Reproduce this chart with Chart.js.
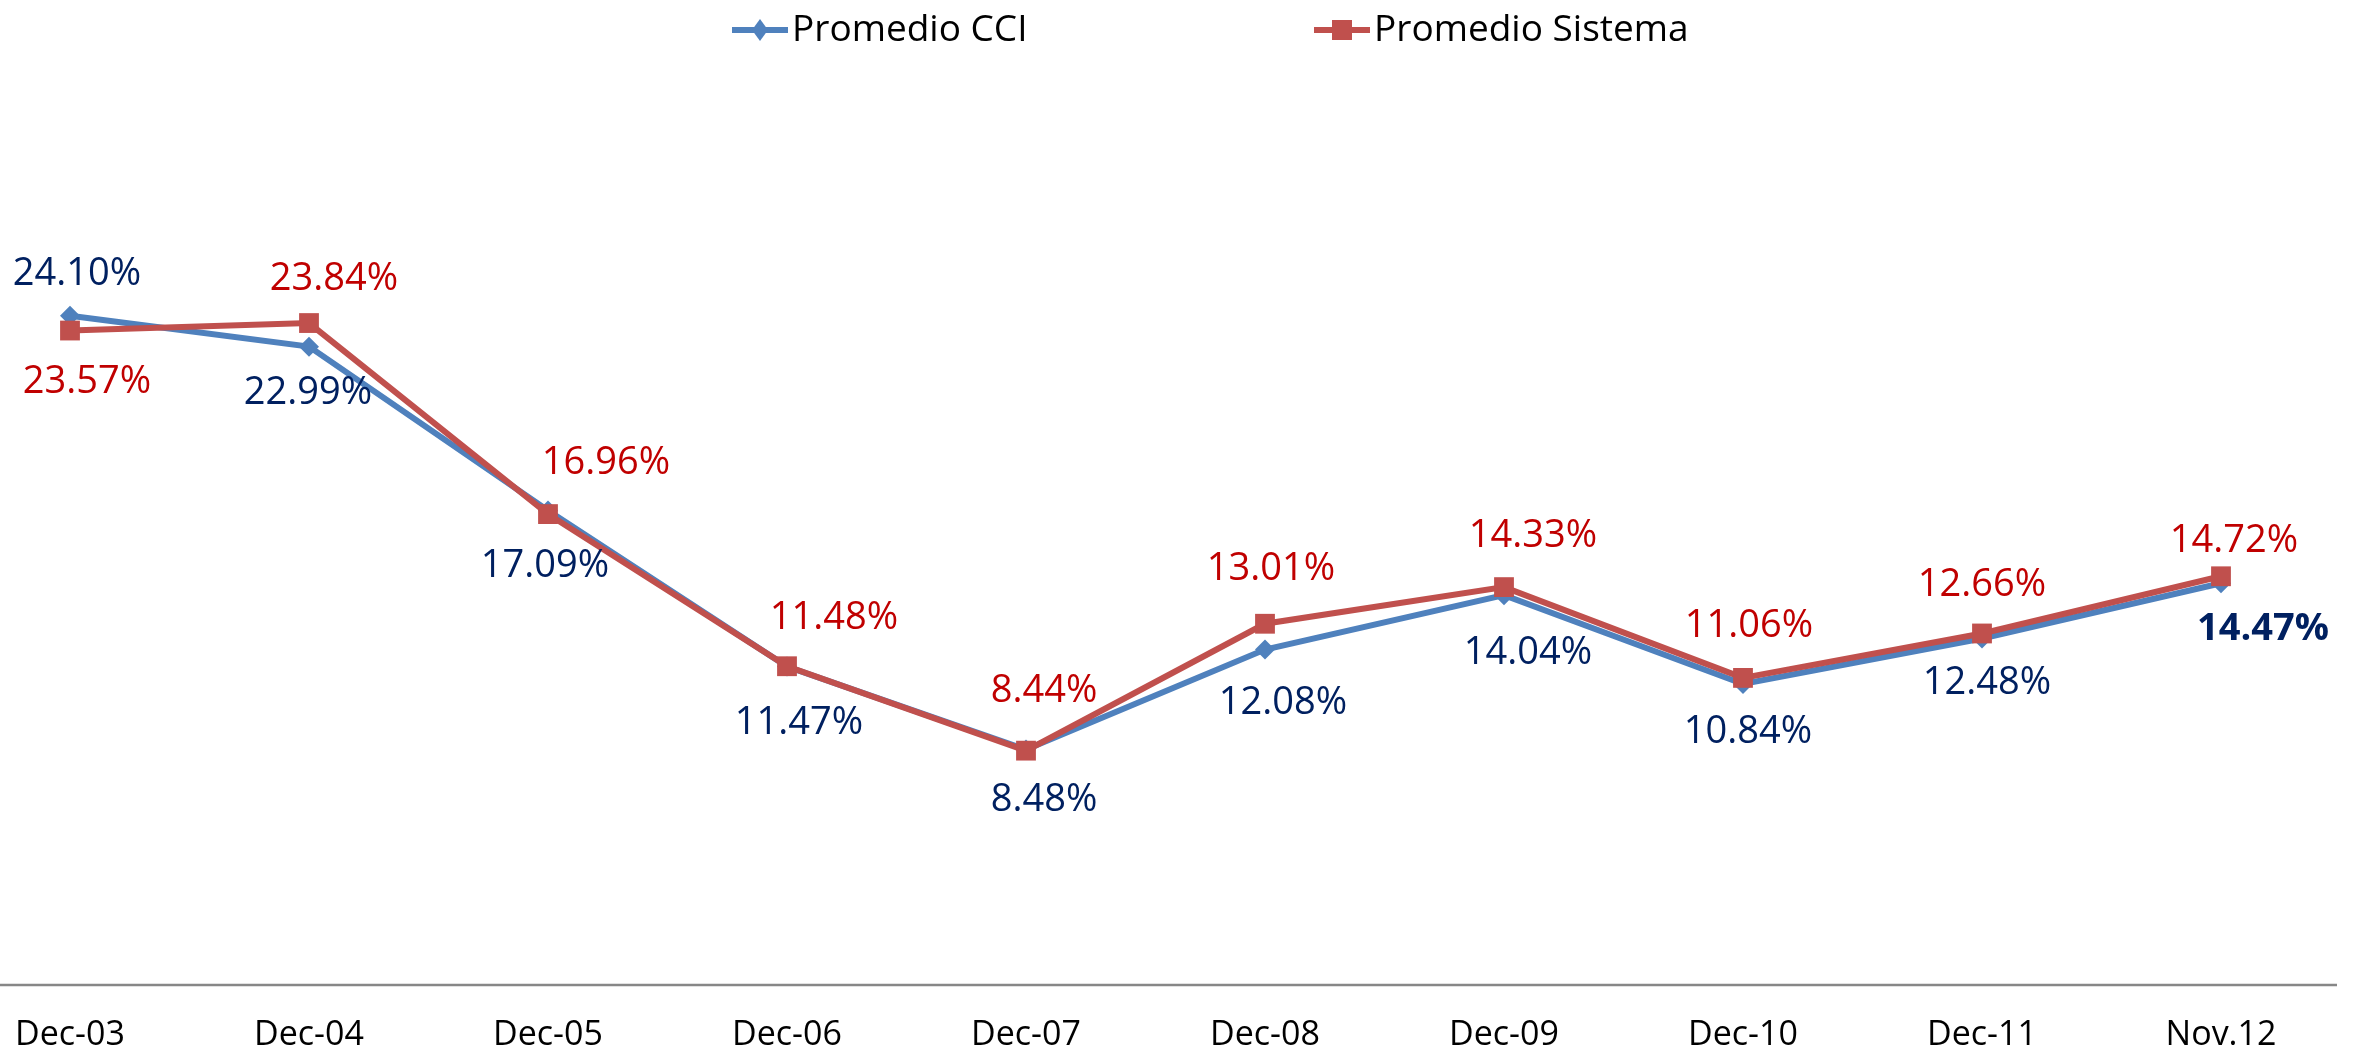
<!DOCTYPE html>
<html lang="es">
<head>
  <meta charset="UTF-8">
  <title>Promedio CCI vs Promedio Sistema</title>
  <script src="https://cdn.jsdelivr.net/npm/chart.js"></script>
  <style>
    html, body { margin: 0; padding: 0; background: #fff; overflow: hidden; }
    .chart-box { width: 2353px; height: 1053px; }
    canvas { display: block; }
  </style>
</head>
<body>
  <div class="chart-box"><canvas id="chart" width="2353" height="1053"></canvas></div>

  <script>
    const periods = ["Dec-03", "Dec-04", "Dec-05", "Dec-06", "Dec-07", "Dec-08", "Dec-09", "Dec-10", "Dec-11", "Nov.12"];
    const cciValues = [24.10, 22.99, 17.09, 11.47, 8.48, 12.08, 14.04, 10.84, 12.48, 14.47];
    const sistemaValues = [23.57, 23.84, 16.96, 11.48, 8.44, 13.01, 14.33, 11.06, 12.66, 14.72];
    const seriesNames = ["Promedio CCI", "Promedio Sistema"];

    // label nudges in px (the labels were placed by hand in the original)
    const cciLabelShift = [[7, -42], [-1, 47], [-3, 56], [12, 57], [18, 51], [18, 54], [24, 58], [5, 48], [5, 45], [42, 46]];
    const sistemaLabelShift = [[17, 52], [25, -44], [58, -51], [47, -48], [18, -59], [6, -55], [29, -51], [6, -52], [0, -48], [13, -35]];

    const FONT = "'Open Sans', 'Liberation Sans', sans-serif";
    const blue = "#4F81BD", red = "#C0504D";
    const navyText = "#002060", redText = "#C00000";

    const labelsPlugin = {
      id: "valueLabels",
      afterDatasetsDraw(chart) {
        const ctx = chart.ctx;
        const sets = [
          { meta: chart.getDatasetMeta(0), values: cciValues, shift: cciLabelShift, color: navyText },
          { meta: chart.getDatasetMeta(1), values: sistemaValues, shift: sistemaLabelShift, color: redText }
        ];
        ctx.save();
        ctx.textAlign = "center";
        ctx.textBaseline = "middle";
        sets.forEach((s, d) => {
          s.meta.data.forEach((pt, i) => {
            const bold = d === 0 && i === s.values.length - 1;
            ctx.font = (bold ? "bold " : "") + "38px " + FONT;
            ctx.fillStyle = s.color;
            ctx.fillText(s.values[i].toFixed(2) + "%", pt.x + s.shift[i][0], pt.y + s.shift[i][1]);
          });
        });
        ctx.restore();
      }
    };

    const axisLinePlugin = {
      id: "axisLine",
      beforeDatasetsDraw(chart) {
        const ctx = chart.ctx;
        const y = chart.chartArea.bottom;
        ctx.save();
        ctx.strokeStyle = "#878787";
        ctx.lineWidth = 2.5;
        ctx.beginPath();
        ctx.moveTo(0, y);
        ctx.lineTo(2337, y);
        ctx.stroke();
        ctx.restore();
      }
    };

    // legend drawn by hand: Excel style line + marker
    const legendPlugin = {
      id: "excelLegend",
      afterDraw(chart) {
        const ctx = chart.ctx;
        const items = [
          { x: 732, color: blue, marker: "diamond", text: seriesNames[0] },
          { x: 1314, color: red, marker: "square", text: seriesNames[1] }
        ];
        const y = 30;
        ctx.save();
        items.forEach(it => {
          ctx.strokeStyle = it.color;
          ctx.lineWidth = 6;
          ctx.beginPath();
          ctx.moveTo(it.x, y);
          ctx.lineTo(it.x + 56, y);
          ctx.stroke();
          ctx.fillStyle = it.color;
          const cx = it.x + 28;
          ctx.beginPath();
          if (it.marker === "diamond") {
            ctx.moveTo(cx, y - 11);
            ctx.lineTo(cx + 8, y);
            ctx.lineTo(cx, y + 11);
            ctx.lineTo(cx - 8, y);
            ctx.closePath();
          } else {
            ctx.rect(cx - 10, y - 10, 20, 20);
          }
          ctx.fill();
          ctx.fillStyle = "#000";
          ctx.font = "37px " + FONT;
          ctx.textAlign = "left";
          ctx.textBaseline = "middle";
          ctx.fillText(it.text, it.x + 60, y);
        });
        ctx.restore();
      }
    };

    new Chart(document.getElementById("chart"), {
      type: "line",
      data: {
        labels: periods,
        datasets: [
          {
            label: seriesNames[0],
            data: cciValues,
            borderColor: blue,
            backgroundColor: blue,
            borderWidth: 6,
            pointStyle: "rectRot",
            pointRadius: 10,
            pointBorderWidth: 0,
            tension: 0,
            order: 1
          },
          {
            label: seriesNames[1],
            data: sistemaValues,
            borderColor: red,
            backgroundColor: red,
            borderWidth: 6,
            pointStyle: "rect",
            pointRadius: 14,
            pointBorderWidth: 0,
            tension: 0,
            order: 0
          }
        ]
      },
      options: {
        responsive: false,
        devicePixelRatio: 1,
        animation: false,
        layout: { padding: { top: 152, left: 70, right: 132, bottom: -32 } },
        plugins: {
          legend: { display: false },
          tooltip: { enabled: false }
        },
        scales: {
          x: {
            offset: false,
            grid: { display: false, drawTicks: false },
            border: { display: false },
            ticks: {
              color: "#000",
              font: { family: FONT, size: 34, lineHeight: 100 / 34 },
              padding: 0,
              maxRotation: 0,
              autoSkip: false
            }
          },
          y: {
            display: false,
            min: 0,
            max: 30
          }
        }
      },
      plugins: [axisLinePlugin, labelsPlugin, legendPlugin]
    });
  </script>
</body>
</html>
